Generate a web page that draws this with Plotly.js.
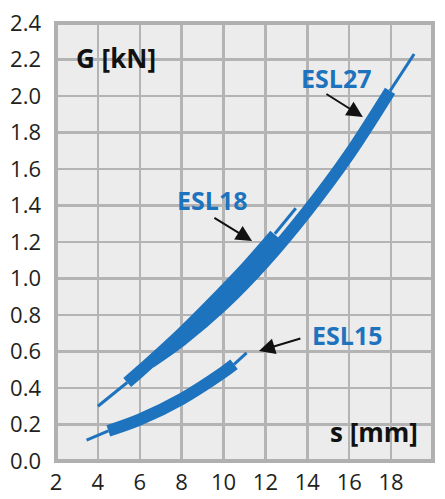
<!DOCTYPE html>
<html><head><meta charset="utf-8">
<script src="https://cdn.plot.ly/plotly-3.0.1.min.js"></script>
<style>html,body{margin:0;padding:0;background:#fff}</style>
</head><body><div id="chart" style="width:445px;height:499px"></div>
<script>
// ESL15
const esl15ThinStartX = [3.46, 4.5];
const esl15ThinStartY = [0.115, 0.165];
const esl15ThickX = [4.5, 6, 8, 10, 10.5];
const esl15ThickY = [0.165, 0.227, 0.34, 0.487, 0.53];
const esl15ThinEndX = [10.5, 11.1];
const esl15ThinEndY = [0.53, 0.592];
// ESL18
const esl18ThinStartX = [4.0, 5.4];
const esl18ThinStartY = [0.30, 0.43];
const esl18ThickX = [5.4, 6, 8, 10, 11, 12.45];
const esl18ThickY = [0.43, 0.49, 0.70, 0.93, 1.05, 1.24];
const esl18ThinEndX = [12.45, 13.45];
const esl18ThinEndY = [1.245, 1.385];
// ESL27
const esl27ThickX = [6.5, 8, 10, 12, 14, 16, 17.95];
const esl27ThickY = [0.54, 0.662, 0.858, 1.095, 1.37, 1.68, 2.028];
const esl27ThinEndX = [17.95, 19.1];
const esl27ThinEndY = [2.028, 2.23];

const labels = ['ESL27', 'ESL18', 'ESL15'];
const labelX = [15.37, 9.45, 15.91];
const labelY = [2.10, 1.43, 0.69];
const arrowTailX = [14.84, 9.49, 13.74];
const arrowTailY = [2.016, 1.337, 0.674];
const arrowHeadX = [16.65, 11.36, 11.69];
const arrowHeadY = [1.885, 1.205, 0.603];

const blue = '#1e73be';
const thin = 3, thick = 12;
function tr(x, y, w) {
  return {x: x, y: y, type: 'scatter', mode: 'lines', hoverinfo: 'skip',
    line: {color: blue, width: w, shape: 'spline', smoothing: 1}, showlegend: false};
}
const data = [
  tr(esl15ThinStartX, esl15ThinStartY, thin),
  tr(esl15ThinEndX, esl15ThinEndY, thin),
  tr(esl15ThickX, esl15ThickY, thick),
  tr(esl18ThinStartX, esl18ThinStartY, thin),
  tr(esl18ThinEndX, esl18ThinEndY, thin),
  tr(esl27ThinEndX, esl27ThinEndY, thin),
  tr(esl27ThickX, esl27ThickY, thick),
  tr(esl18ThickX, esl18ThickY, thick)
];

const annotations = [];
for (let i = 0; i < labels.length; i++) {
  annotations.push({x: labelX[i], y: labelY[i], xref: 'x', yref: 'y', text: labels[i], showarrow: false,
    font: {family: 'Open Sans', size: 25, color: blue, weight: 'bold'}});
  annotations.push({x: arrowHeadX[i], y: arrowHeadY[i], ax: arrowTailX[i], ay: arrowTailY[i],
    xref: 'x', yref: 'y', axref: 'x', ayref: 'y', text: '', showarrow: true,
    arrowhead: 2, arrowsize: 1.6, arrowwidth: 2, arrowcolor: '#111'});
}
annotations.push({x: 4.86, y: 2.21, xref: 'x', yref: 'y', text: 'G [kN]', showarrow: false,
  font: {family: 'Open Sans', size: 26, color: '#111', weight: 'bold'}});
annotations.push({x: 17.16, y: 0.16, xref: 'x', yref: 'y', text: 's [mm]', showarrow: false,
  font: {family: 'Open Sans', size: 26, color: '#111', weight: 'bold'}});

const tickFont = {family: 'Open Sans', size: 22, color: '#231f20'};
const layout = {
  width: 445, height: 499,
  margin: {l: 56, r: 12, t: 23, b: 38},
  paper_bgcolor: '#ffffff', plot_bgcolor: '#ececec',
  showlegend: false,
  xaxis: {range: [2, 20], tick0: 2, dtick: 2, showgrid: true, gridcolor: '#b4b4b4', gridwidth: 2.5,
    zeroline: false, showline: false, ticks: '', tickfont: tickFont, ticklabelstandoff: 6, fixedrange: true},
  yaxis: {range: [0, 2.4], tick0: 0, dtick: 0.2, tickformat: '.1f', showgrid: true, gridcolor: '#b4b4b4', gridwidth: 2.5,
    zeroline: false, showline: false, ticks: '', tickfont: tickFont, ticklabelstandoff: 14, fixedrange: true},
  shapes: [{type: 'rect', xref: 'paper', yref: 'paper', x0: 0, x1: 1, y0: 0, y1: 1,
    line: {color: '#b0b0b0', width: 4}, layer: 'above'}],
  annotations: annotations
};
Plotly.newPlot('chart', data, layout, {displayModeBar: false, staticPlot: true});
</script></body></html>
